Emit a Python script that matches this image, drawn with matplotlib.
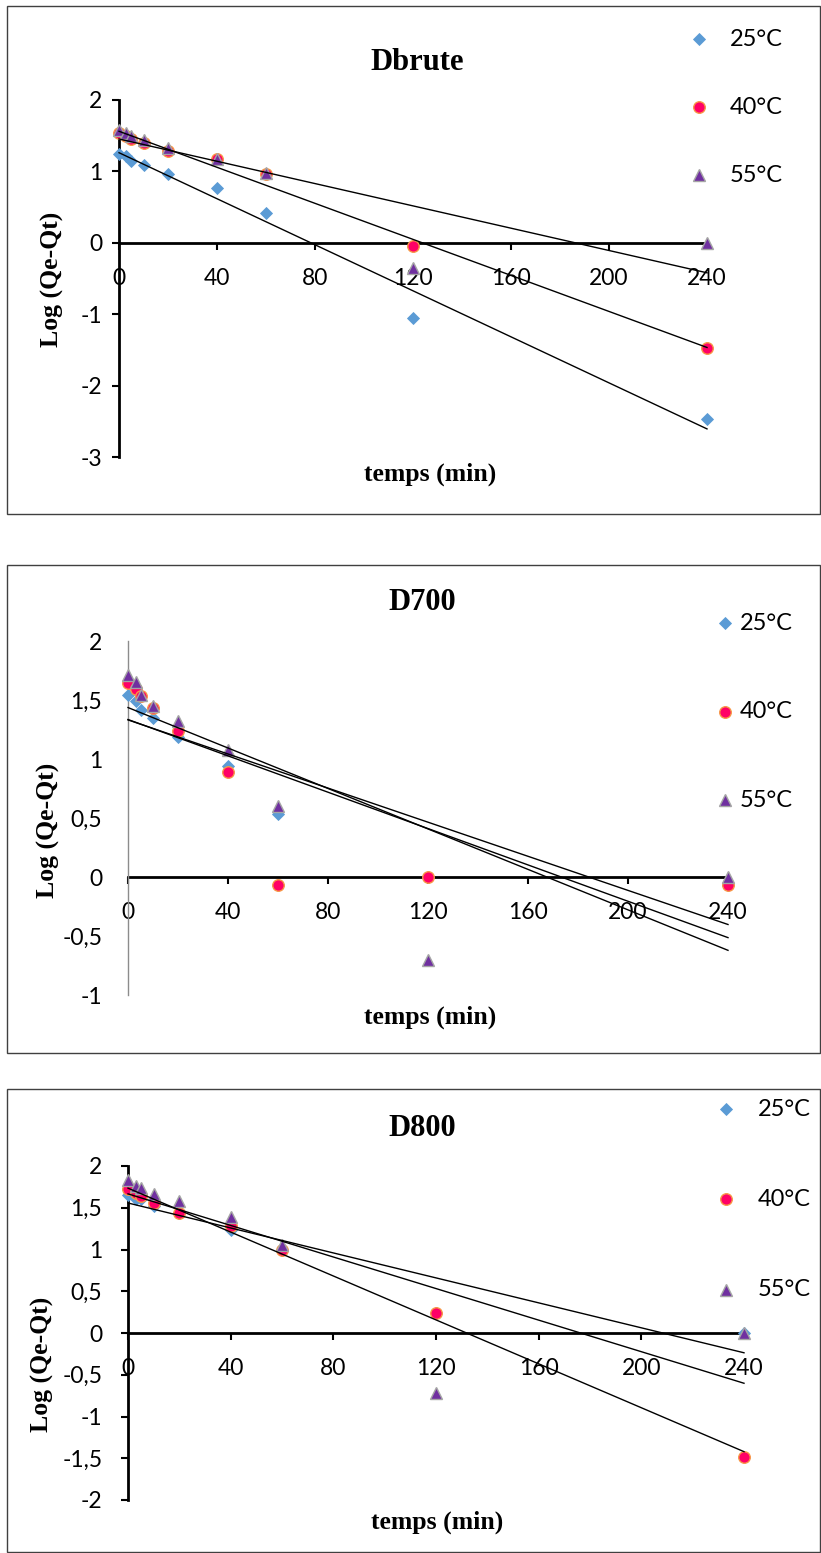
import numpy as np
import matplotlib
matplotlib.use("Agg")
import matplotlib.pyplot as plt
from matplotlib.lines import Line2D
from matplotlib.patches import Rectangle

W, H = 821, 1553

temps = [0, 3, 5, 10, 20, 40, 60, 120, 240]
xticks = [0, 40, 80, 120, 160, 200, 240]
labels = ["25°C", "40°C", "55°C"]

# log(Qe-Qt)
dbrute_25 = [1.25, 1.22, 1.15, 1.09, 0.96, 0.77, 0.42, -1.06, -2.47]
dbrute_40 = [1.535, 1.49, 1.45, 1.40, 1.29, 1.17, 0.96, -0.05, -1.47]
dbrute_55 = [1.58, 1.54, 1.50, 1.44, 1.33, 1.18, 0.98, -0.35, 0.0]

d700_25 = [1.54, 1.49, 1.415, 1.35, 1.19, 0.94, 0.53, 0.0, -0.07]
d700_40 = [1.64, 1.59, 1.53, 1.43, 1.24, 0.886, -0.07, 0.0, -0.07]
d700_55 = [1.71, 1.655, 1.54, 1.45, 1.32, 1.08, 0.60, -0.70, 0.0]

d800_25 = [1.655, 1.60, 1.61, 1.52, 1.435, 1.235, 1.0, 0.235, 0.0]
d800_40 = [1.72, 1.675, 1.64, 1.555, 1.44, 1.28, 1.0, 0.235, -1.48]
d800_55 = [1.83, 1.76, 1.735, 1.66, 1.575, 1.39, 1.055, -0.715, 0.0]

yt_brute = [2, 1, 0, -1, -2, -3]
yt_d700 = [2, 1.5, 1, 0.5, 0, -0.5, -1]
yt_d800 = [2, 1.5, 1, 0.5, 0, -0.5, -1, -1.5, -2]

styles = [
    dict(marker="D", ms=5.8, mfc="#5B9BD5", mec="#5B9BD5", mew=0.6),
    dict(marker="o", ms=8.3, mfc="#FF0066", mec="#F79646", mew=1.0),
    dict(marker="^", ms=8.3, mfc="#7030A0", mec="#A5A5A5", mew=1.0),
]

SANS = "Lato"
SERIF = "Liberation Serif"
TICK_FS = 16.5


def fx(x):
    return x / W


def fy(y):
    return 1 - y / H


def fmt(v):
    s = ("%g" % v).replace(".", ",")
    return s


fig = plt.figure(figsize=(W / 100, H / 100), dpi=100)


def panel(title, series, yticks, box, frame, legend_pos, title_pos, xl_pos, yl_pos,
          ytick_len, ypad, gray_yaxis=False):
    left, right, top, bottom = box
    ax = fig.add_axes([fx(left), fy(bottom), fx(right - left), (bottom - top) / H])
    ax.set_xlim(0, 240)
    ax.set_ylim(min(yticks), max(yticks))
    ax.patch.set_alpha(0)

    for vals, st in zip(series, styles):
        ax.plot(temps, vals, ls="none", clip_on=False, zorder=3, **st)
    for vals in series:
        k, b = np.polyfit(temps, vals, 1)
        xs = np.array([0, 240])
        ax.plot(xs, k * xs + b, color="black", lw=1.0, clip_on=False, zorder=4)

    for s in ["top", "right"]:
        ax.spines[s].set_visible(False)
    ax.spines["bottom"].set_position(("data", 0))
    ax.spines["bottom"].set_linewidth(2.0)
    ax.spines["bottom"].set_zorder(2)
    if gray_yaxis:
        ax.spines["left"].set_color("#8C8C8C")
        ax.spines["left"].set_linewidth(1.0)
    else:
        ax.spines["left"].set_linewidth(2.0)

    ax.set_xticks(xticks)
    ax.set_xticklabels([str(t) for t in xticks], fontsize=TICK_FS, family=SANS)
    ax.set_yticks(yticks)
    ax.set_yticklabels([fmt(v) for v in yticks], fontsize=TICK_FS, family=SANS)
    ax.tick_params(axis="x", direction="out", length=5, width=1.5, pad=13)
    ax.tick_params(axis="y", direction="out", length=ytick_len, width=1.5, pad=ypad)

    fig.text(fx(title_pos[0]), fy(title_pos[1]), title, family=SERIF, weight="bold",
             fontsize=22, ha="center", va="center")
    fig.text(fx(xl_pos[0]), fy(xl_pos[1]), "temps (min)", family=SERIF, weight="bold",
             fontsize=18.5, ha="center", va="center")
    fig.text(fx(yl_pos[0]), fy(yl_pos[1]), "Log (Qe-Qt)", family=SERIF, weight="bold",
             fontsize=18.5, ha="center", va="center", rotation=90)

    mx, tx, ys = legend_pos
    for lab, st, y in zip(labels, styles, ys):
        fig.add_artist(Line2D([fx(mx)], [fy(y)], transform=fig.transFigure, ls="none", **st))
        fig.text(fx(tx), fy(y), lab, family=SANS, fontsize=17, ha="left", va="center")

    x0, y0, x1, y1 = frame
    fig.add_artist(Rectangle((fx(x0), fy(y1)), fx(x1 - x0), (y1 - y0) / H,
                             transform=fig.transFigure, fill=False,
                             edgecolor="#404040", lw=1.0))
    return ax


panel("Dbrute", [dbrute_25, dbrute_40, dbrute_55], yt_brute,
      (119, 707, 100, 457), (7, 6, 820, 514),
      (699, 730, [39, 107, 175]), (417, 62), (430, 474), (52, 279),
      5, 7)

panel("D700", [d700_25, d700_40, d700_55], yt_d700,
      (128, 728, 641, 995), (7, 565, 820, 1053),
      (725, 740, [623, 712, 800]), (422, 602), (430, 1017), (48, 830),
      0, 18.5, gray_yaxis=True)

panel("D800", [d800_25, d800_40, d800_55], yt_d800,
      (128, 744, 1166, 1500), (7, 1089, 820, 1552),
      (726, 758, [1109, 1199, 1290]), (422, 1129), (437, 1522), (42, 1364),
      5, 13.5)

fig.savefig("out.png", dpi=100)
